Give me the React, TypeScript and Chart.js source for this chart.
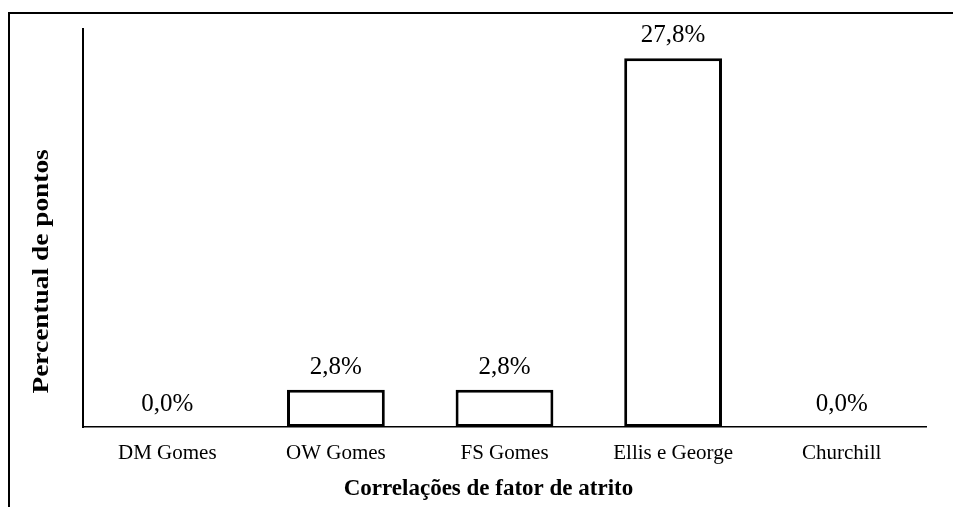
import React, { useEffect, useRef } from "react";
import { Chart, registerables } from "chart.js";

Chart.register(...registerables);

const categories = ["DM Gomes", "OW Gomes", "FS Gomes", "Ellis e George", "Churchill"];
const percentValues = [0.0, 2.8, 2.8, 27.8, 0.0];
const yAxisMax = 30;
const xTitle = "Correlações de fator de atrito";
const yTitle = "Percentual de pontos";

const FONT = "'Liberation Serif', 'Times New Roman', serif";

const framePlugin = {
  id: "frame",
  beforeDraw(chart: any) {
    const ctx = chart.ctx;
    ctx.save();
    ctx.strokeStyle = "#000";
    ctx.lineWidth = 2;
    ctx.strokeRect(9, 13, 3000, 3000);
    ctx.restore();
  },
};

const labelsPlugin = {
  id: "valueLabels",
  afterDatasetsDraw(chart: any) {
    const ctx = chart.ctx;
    const meta = chart.getDatasetMeta(0);
    const data = chart.data.datasets[0].data as number[];
    ctx.save();
    ctx.fillStyle = "#000";
    ctx.font = `25px ${FONT}`;
    ctx.textAlign = "center";
    ctx.textBaseline = "alphabetic";
    meta.data.forEach((bar: any, i: number) => {
      const txt = data[i].toFixed(1).replace(".", ",") + "%";
      ctx.fillText(txt, bar.x, bar.y - 16);
    });
    ctx.restore();
  },
};

const titlesPlugin = {
  id: "axisTitles",
  afterDraw(chart: any) {
    const ctx = chart.ctx;
    const area = chart.chartArea;
    ctx.save();
    ctx.fillStyle = "#000";
    ctx.font = `bold 23px ${FONT}`;
    ctx.textAlign = "center";
    ctx.textBaseline = "middle";
    ctx.fillText(xTitle, area.left + (area.right - area.left) * 0.481, area.bottom + 62);
    ctx.translate(area.left - 41, area.top + (area.bottom - area.top) * 0.609);
    ctx.rotate(-Math.PI / 2);
    ctx.scale(1.19, 1);
    ctx.fillText(yTitle, 0, 0);
    ctx.restore();
  },
};

export default function App() {
  const ref = useRef<HTMLCanvasElement | null>(null);

  useEffect(() => {
    if (!ref.current) return;
    const chart = new Chart(ref.current, {
      type: "bar",
      data: {
        labels: categories,
        datasets: [
          {
            data: percentValues,
            backgroundColor: "#ffffff",
            borderColor: "#000000",
            borderWidth: 3,
            borderSkipped: false,
            categoryPercentage: 1,
            barPercentage: 0.58,
          },
        ],
      },
      options: {
        animation: false,
        responsive: false,
        maintainAspectRatio: false,
        layout: { padding: { left: 83, right: 27, top: 29, bottom: 0 } },
        plugins: {
          legend: { display: false },
          tooltip: { enabled: false },
          title: { display: false },
        },
        scales: {
          x: {
            grid: { display: false, drawTicks: false },
            border: { display: true, color: "#000", width: 1.5 },
            ticks: {
              color: "#000",
              font: { family: FONT, size: 21 },
              padding: 14,
              maxRotation: 0,
            },
            afterFit(scale: any) {
              scale.height = 80;
            },
          },
          y: {
            min: 0,
            max: yAxisMax,
            grid: { display: false, drawTicks: false },
            border: { display: true, color: "#000", width: 2 },
            ticks: { display: false },
            afterFit(scale: any) {
              scale.width = 0;
            },
          },
        },
      },
      plugins: [framePlugin, labelsPlugin, titlesPlugin],
    });
    return () => chart.destroy();
  }, []);

  return (
    <div style={{ position: "absolute", left: 0, top: 0, width: 953, height: 507, background: "#fff" }}>
      <canvas ref={ref} width={953} height={507} style={{ display: "block" }} />
    </div>
  );
}
